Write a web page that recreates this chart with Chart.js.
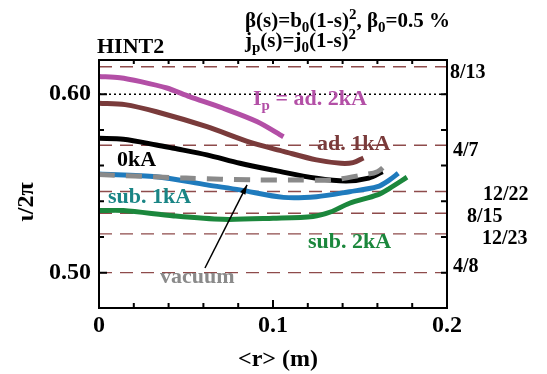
<!DOCTYPE html>
<html>
<head>
<meta charset="utf-8">
<script src="https://cdn.jsdelivr.net/npm/chart.js@4"></script>
<style>
  body { margin: 0; background: #fff; }
  canvas { display: block; }
</style>
</head>
<body>
<canvas id="chart" width="547" height="374"></canvas>
<script>
// iota profiles, <r> (m) vs iota/2pi
const ad2R = [0, 0.012, 0.024, 0.039, 0.052, 0.071, 0.091, 0.106];
const ad2V = [0.6100, 0.6093, 0.6071, 0.6035, 0.5987, 0.5923, 0.5846, 0.5762];

const ad1R = [0, 0.015, 0.033, 0.062, 0.087, 0.106, 0.125, 0.139, 0.146, 0.152];
const ad1V = [0.5950, 0.5942, 0.5902, 0.5818, 0.5730, 0.5680, 0.5632, 0.5613, 0.5617, 0.5643];

const zeroR = [0, 0.014, 0.033, 0.043, 0.062, 0.081, 0.100, 0.125, 0.142, 0.155, 0.163];
const zeroV = [0.5753, 0.5748, 0.5716, 0.5697, 0.5660, 0.5613, 0.5575, 0.5529, 0.5514, 0.5530, 0.5566];

const vacR = [0, 0.05, 0.09, 0.116, 0.134, 0.150, 0.160, 0.166];
const vacV = [0.5550, 0.5530, 0.5520, 0.5520, 0.5520, 0.5545, 0.5566, 0.5615];

const sub1R = [0, 0.033, 0.062, 0.081, 0.106, 0.125, 0.144, 0.160, 0.167, 0.172];
const sub1V = [0.5553, 0.5538, 0.5492, 0.5464, 0.5422, 0.5426, 0.5454, 0.5482, 0.5520, 0.5557];

const sub2R = [0, 0.014, 0.043, 0.071, 0.100, 0.123, 0.133, 0.144, 0.160, 0.167, 0.177];
const sub2V = [0.5348, 0.5348, 0.5318, 0.5299, 0.5305, 0.5315, 0.5340, 0.5389, 0.5436, 0.5473, 0.5535];

// rational surfaces (dashed) and the dotted 0.6 line
const rationalNames = ['8/13', '4/7', '12/22', '8/15', '12/23', '4/8'];
const rationalVals = [8 / 13, 4 / 7, 12 / 22, 8 / 15, 12 / 23, 4 / 8];
const dottedVal = 0.60;

const xTickLabels = ['0', '0.1', '0.2'];
const yTickLabels = ['0.50', '0.60'];

const FONT = '"Liberation Serif", "Times New Roman", serif';

function pts(r, v) {
    return r.map((x, i) => ({ x: x, y: v[i] }));
}

function curve(r, v, color, dash) {
    return {
        data: pts(r, v),
        showLine: true,
        borderColor: color,
        borderWidth: 5,
        borderDash: dash || [],
        pointRadius: 0,
        tension: 0.3,
        fill: false
    };
}

const datasets = [
    curve(ad2R, ad2V, '#b34fa6'),
    curve(ad1R, ad1V, '#7a3b3b'),
    curve(vacR, vacV, '#8a8a8a', [16, 11]),
    curve(zeroR, zeroV, '#000000'),
    curve(sub1R, sub1V, '#1f7bbd'),
    curve(sub2R, sub2V, '#1b873c')
];
rationalVals.forEach((v) => {
    datasets.push({
        data: [{ x: 0, y: v }, { x: 0.2, y: v }],
        showLine: true,
        borderColor: '#8e4b4b',
        borderWidth: 1.4,
        borderDash: [13, 8],
        pointRadius: 0
    });
});
datasets.push({
    data: [{ x: 0, y: dottedVal }, { x: 0.2, y: dottedVal }],
    showLine: true,
    borderColor: '#000',
    borderWidth: 1.5,
    borderDash: [2, 3],
    pointRadius: 0
});

// draws a run of text parts with sub/superscripts
function richText(ctx, x, y, parts, size, color) {
    ctx.fillStyle = color;
    ctx.textBaseline = 'alphabetic';
    ctx.textAlign = 'left';
    parts.forEach((p) => {
        let s = size, dy = 0;
        if (p.sub) { s = Math.round(size * 0.7); dy = size * 0.25; }
        if (p.sup) { s = Math.round(size * 0.7); dy = -size * 0.4; }
        ctx.font = 'bold ' + s + 'px ' + FONT;
        ctx.fillText(p.t, x, y + dy);
        x += ctx.measureText(p.t).width;
    });
}

const curveLabels = [
    { x: 0.0885, y: 0.5985, color: '#b34fa6', parts: [{ t: 'I' }, { t: 'p', sub: true }, { t: ' = ad. 2kA' }] },
    { x: 0.1253, y: 0.5733, color: '#7a3b3b', parts: [{ t: 'ad. 1kA' }] },
    { x: 0.0103, y: 0.5643, color: '#000000', parts: [{ t: '0kA' }] },
    { x: 0.0052, y: 0.5436, color: '#1a8585', parts: [{ t: 'sub. 1kA' }] },
    { x: 0.1201, y: 0.5183, color: '#1b873c', parts: [{ t: 'sub. 2kA' }] },
    { x: 0.0351, y: 0.4988, color: '#8a8a8a', parts: [{ t: 'vacuum' }] }
];
// offsets of the rational labels right of the frame
const rationalLabelDx = [3, 6, 36, 20, 35, 6];
const rationalLabelY = [0.6130, 0.5693, 0.5447, 0.5324, 0.5201, 0.5044];

const decor = {
    id: 'decor',
    afterDatasetsDraw(chart) {
        const ctx = chart.ctx;
        const a = chart.chartArea;
        const xs = chart.scales.x, ys = chart.scales.y;
        ctx.save();

        // frame
        ctx.strokeStyle = '#000';
        ctx.lineWidth = 2;
        ctx.strokeRect(a.left, a.top, a.right - a.left, a.bottom - a.top);

        // inward ticks
        ctx.lineWidth = 2;
        ctx.beginPath();
        xs.ticks.forEach((t) => {
            const px = xs.getPixelForValue(t.value);
            if (px <= a.left + 1 || px >= a.right - 1) return;
            const len = t.label ? 8 : 5;
            ctx.moveTo(px, a.bottom); ctx.lineTo(px, a.bottom - len);
            ctx.moveTo(px, a.top); ctx.lineTo(px, a.top + 4);
        });
        ys.ticks.forEach((t) => {
            const py = ys.getPixelForValue(t.value);
            const len = t.label ? 8 : 5;
            ctx.moveTo(a.left, py); ctx.lineTo(a.left + len, py);
            ctx.moveTo(a.right, py); ctx.lineTo(a.right - 6, py);
        });
        ctx.stroke();

        // curve labels
        curveLabels.forEach((l) => {
            const px = xs.getPixelForValue(l.x);
            const py = ys.getPixelForValue(l.y) + 8;
            richText(ctx, px, py, l.parts, 22, l.color);
        });

        // rational labels
        rationalNames.forEach((n, i) => {
            const py = ys.getPixelForValue(rationalLabelY[i]) + 7;
            richText(ctx, a.right + rationalLabelDx[i], py, [{ t: n }], 20, '#000');
        });

        // arrow to vacuum curve
        const x0 = xs.getPixelForValue(0.0609), y0 = ys.getPixelForValue(0.5026);
        const x1 = xs.getPixelForValue(0.0851), y1 = ys.getPixelForValue(0.5492);
        ctx.strokeStyle = '#000';
        ctx.fillStyle = '#000';
        ctx.lineWidth = 1.5;
        ctx.beginPath();
        ctx.moveTo(x0, y0); ctx.lineTo(x1, y1);
        ctx.stroke();
        const ang = Math.atan2(y1 - y0, x1 - x0);
        ctx.beginPath();
        ctx.moveTo(x1, y1);
        ctx.lineTo(x1 - 10 * Math.cos(ang - 0.3), y1 - 10 * Math.sin(ang - 0.3));
        ctx.lineTo(x1 - 10 * Math.cos(ang + 0.3), y1 - 10 * Math.sin(ang + 0.3));
        ctx.closePath();
        ctx.fill();

        // headers
        richText(ctx, 97, 53, [{ t: 'HINT2' }], 22, '#000');
        richText(ctx, 245, 27, [
            { t: 'β' }, { t: '(s)=b' }, { t: '0', sub: true }, { t: '(1-s)' }, { t: '2', sup: true },
            { t: ', β' }, { t: '0', sub: true }, { t: '=0.5 %' }
        ], 21, '#000');
        richText(ctx, 245, 47, [
            { t: 'j' }, { t: 'p', sub: true }, { t: '(s)=j' }, { t: '0', sub: true }, { t: '(1-s)' }, { t: '2', sup: true }
        ], 21, '#000');

        // axis titles
        ctx.font = 'bold 24px ' + FONT;
        ctx.textAlign = 'center';
        ctx.textBaseline = 'middle';
        ctx.fillText('<r> (m)', 278, 360);
        ctx.save();
        ctx.translate(27, 202);
        ctx.rotate(-Math.PI / 2);
        ctx.fillText('ι/2π', 0, 0);
        ctx.restore();

        ctx.restore();
    }
};

new Chart(document.getElementById('chart'), {
    type: 'scatter',
    data: { datasets: datasets },
    options: {
        responsive: false,
        animation: false,
        layout: { padding: { left: 0, right: 100, top: 60, bottom: 0 } },
        plugins: { legend: { display: false }, tooltip: { enabled: false } },
        scales: {
            x: {
                type: 'linear',
                min: 0,
                max: 0.2,
                grid: { display: false, drawTicks: false },
                border: { display: false },
                ticks: {
                    stepSize: 0.02,
                    autoSkip: false,
                    maxRotation: 0,
                    padding: 3,
                    color: '#000',
                    font: { family: FONT, size: 24, weight: 'bold' },
                    callback: (v) => {
                        const s = xTickLabels.find((l) => Math.abs(parseFloat(l) - v) < 1e-6);
                        return s || '';
                    }
                },
                afterFit: (s) => { s.height = 66; }
            },
            y: {
                min: 0.4802,
                max: 0.6192,
                grid: { display: false, drawTicks: false },
                border: { display: false },
                ticks: {
                    stepSize: 0.02,
                    includeBounds: false,
                    autoSkip: false,
                    padding: 8,
                    color: '#000',
                    font: { family: FONT, size: 24, weight: 'bold' },
                    callback: (v) => {
                        const s = yTickLabels.find((l) => Math.abs(parseFloat(l) - v) < 1e-6);
                        return s || '';
                    }
                },
                afterFit: (s) => { s.width = 99; }
            }
        }
    },
    plugins: [decor]
});
</script>
</body>
</html>
